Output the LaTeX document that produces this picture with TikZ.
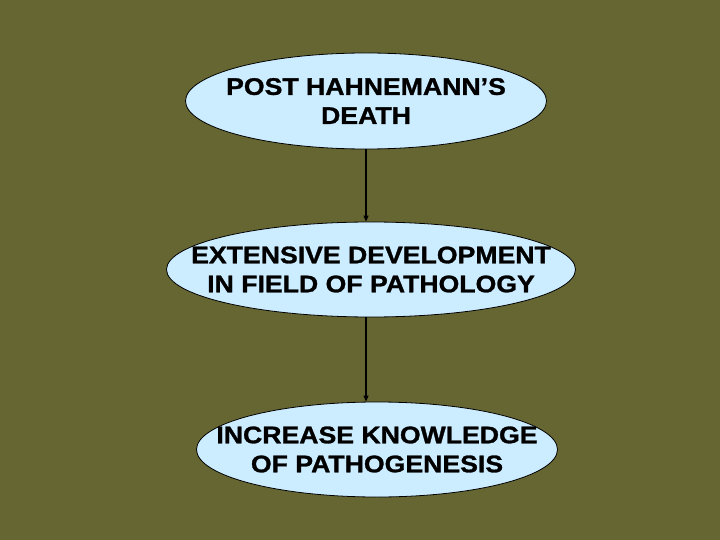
\documentclass[tikz,border=0pt]{standalone}
\usepackage{fontspec}
\setmainfont{Liberation Sans}
\newfontfamily\widebold[FakeStretch=1.11,FakeBold=1.2]{Liberation Sans Bold}
\usetikzlibrary{shapes.geometric,arrows.meta}
\definecolor{bgolive}{HTML}{666633}
\definecolor{ellfill}{HTML}{CCECFF}
\tikzset{
  oval/.style={ellipse, draw=black, line width=0.8pt, fill=ellfill, inner sep=0pt},
  ovaltext/.style={font=\widebold\fontsize{24}{29}\selectfont, align=center, inner sep=0pt},
  link/.style={draw=black, line width=1.2pt, -{Triangle[length=6pt,width=5pt]}}
}
\begin{document}
\begin{tikzpicture}[x=1pt,y=-1pt]
\fill[bgolive] (0,0) rectangle (720,540);
\useasboundingbox (0,0) rectangle (720,540);
\node[oval, minimum width=361pt, minimum height=96pt] (a) at (366,101) {};
\node[ovaltext] (ta) at (366,101) {POST HAHNEMANN’S\\DEATH};
\node[oval, minimum width=409pt, minimum height=95pt] (b) at (371,269.5) {};
\node[ovaltext] (tb) at (371,269.5) {EXTENSIVE DEVELOPMENT\\IN FIELD OF PATHOLOGY};
\node[oval, minimum width=361pt, minimum height=95pt] (c) at (377,449.5) {};
\node[ovaltext] (tc) at (377,449.5) {INCREASE KNOWLEDGE\\OF PATHOGENESIS};
\draw[link] (a.south -| 366,0) -- (b.north -| 366,0);
\draw[link] (b.south -| 366,0) -- (c.north -| 366,0);
\end{tikzpicture}
\end{document}
